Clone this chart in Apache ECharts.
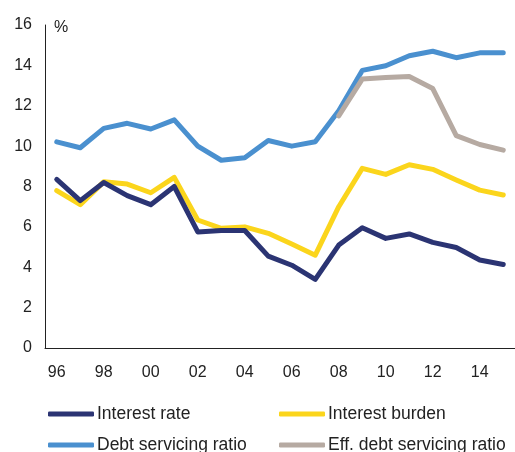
<!DOCTYPE html>
<html><head><meta charset="utf-8">
<script src="https://cdn.jsdelivr.net/npm/echarts@6/dist/echarts.min.js"></script>
<style>html,body{margin:0;padding:0;background:#fff}#c{width:515px;height:452px}</style>
</head><body><div id="c"></div>
<script>
const years = ['96','97','98','99','00','01','02','03','04','05','06','07','08','09','10','11','12','13','14','15'];
const interestRate = [8.35,7.3,8.2,7.55,7.1,8.0,5.75,5.82,5.82,4.55,4.1,3.4,5.1,5.96,5.43,5.65,5.23,4.98,4.36,4.14];
const interestBurden = [7.8,7.1,8.23,8.12,7.69,8.45,6.34,5.93,6.0,5.68,5.15,4.6,7.0,8.9,8.6,9.08,8.85,8.32,7.82,7.58];
const debtServicing = [10.21,9.92,10.88,11.13,10.85,11.3,10.0,9.3,9.42,10.28,10.0,10.22,11.75,13.75,13.98,14.48,14.7,14.38,14.62,14.62];
const effDebtServicing = [null,null,null,null,null,null,null,null,null,null,null,null,11.5,13.32,13.4,13.45,12.85,10.52,10.08,9.8];
const yTicks = {min:0, max:16, interval:2};

const font = 'Liberation Sans, Arial, sans-serif';
const chart = echarts.init(document.getElementById('c'));
const mk = (name, data, color) => ({
  name, type:'line', data, symbol:'none', connectNulls:false,
  lineStyle:{color, width:5, cap:'round', join:'round'}, itemStyle:{color},
  emphasis:{disabled:true}
});
const leg = (name, left, top) => ({
  data:[name], left, top, icon:'roundRect', itemWidth:46, itemHeight:5, itemGap:0,
  textStyle:{fontFamily:font, fontSize:17.5, color:'#222', padding:[0,0,0,-2]},
  selectedMode:false, padding:0
});
chart.setOption({
  animation:false,
  title:{text:'%', left:54, top:20, padding:0, textStyle:{fontFamily:font, fontSize:16, fontWeight:'normal', color:'#222'}},
  grid:{left:45, top:25, bottom:104, right:-4, containLabel:false},
  xAxis:{type:'category', data:years, boundaryGap:true,
    axisLine:{lineStyle:{color:'#222', width:1}}, axisTick:{show:false},
    axisLabel:{interval:1, margin:17, fontFamily:font, fontSize:16, color:'#222'}},
  yAxis:{type:'value', min:yTicks.min, max:yTicks.max, interval:yTicks.interval,
    axisLine:{show:true, lineStyle:{color:'#222', width:1}}, axisTick:{show:false}, splitLine:{show:false},
    axisLabel:{margin:13, fontFamily:font, fontSize:16, color:'#222'}},
  legend:[leg('Interest rate',48,405), leg('Interest burden',279,405), leg('Debt servicing ratio',48,436), leg('Eff. debt servicing ratio',279,436)],
  series:[
    mk('Debt servicing ratio', debtServicing, '#4a90cf'),
    mk('Eff. debt servicing ratio', effDebtServicing, '#b6aaa2'),
    mk('Interest burden', interestBurden, '#fbd51c'),
    mk('Interest rate', interestRate, '#2b3473')
  ]
});
</script></body></html>
